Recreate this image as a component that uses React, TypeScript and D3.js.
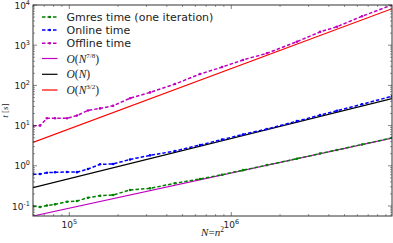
import React from 'react';
import * as d3 from 'd3';

// problem size N = n^2
const sizes = [59700, 66000, 72700, 81600, 96800, 111600, 130400, 154800, 186300, 237100, 315000, 449000, 640700, 876800, 1180000, 1660000, 2540000, 3530000, 4490000, 6410000, 9820000];

// timings in seconds
const gmresTime = [0.100, 0.0944, 0.103, 0.110, 0.128, 0.133, 0.161, 0.180, 0.188, 0.250, 0.275, 0.367, 0.470, 0.60, 0.78, 1.04, 1.50, 2.02, 2.48, 3.40, 4.95];
const onlineTime = [0.615, 0.625, 0.673, 0.689, 0.701, 0.695, 0.832, 1.09, 1.11, 1.44, 1.82, 2.33, 3.29, 4.49, 6.03, 8.22, 12.9, 18.2, 23.4, 33.9, 53.7];
const offlineTime = [9.95, 10.0, 15.2, 15.2, 15.2, 17.8, 23.8, 26.8, 31.0, 48.0, 67.0, 108, 192, 285, 429, 630, 1222, 2140, 2885, 5250, 10000];

// reference slopes O(N^p) = c * N^p
const refExponents = [7 / 8, 1, 3 / 2];
const refCoeffs = [Math.pow(10, -5.428), Math.pow(10, -5.321), Math.pow(10, -6.58)];

const xTickExps = [5, 6];
const yTickExps = [-1, 0, 1, 2, 3, 4];

const width = 393;
const height = 243;
const plot = { left: 33, right: 392, top: 5, bottom: 216 };

const tickFont = '"DejaVu Sans", sans-serif';
const mathFont = '"Liberation Serif", "DejaVu Serif", serif';

const Pow10: React.FC<{ x: number; y: number; exp: number; anchor: string }> = ({ x, y, exp, anchor }) => (
    <text x={x} y={y} textAnchor={anchor} fontFamily={tickFont} fontSize={9} fill="#222">
        10<tspan dy={-4} fontSize={6.5}>{exp}</tspan>
    </text>
);

export default function App() {
    const xScale = d3.scaleLog().domain([5.97e4, 9.82e6]).range([plot.left, plot.right]);
    const yScale = d3.scaleLog().domain([0.0564, 1e4]).range([plot.bottom, plot.top]);

    const pts = (vals: number[]) => sizes.map((n, i) => [n, vals[i]] as [number, number]);
    const line = d3.line<[number, number]>().x(d => xScale(d[0])).y(d => yScale(d[1]));

    const series = [
        { label: 'Gmres time (one iteration)', color: '#008000', vals: gmresTime },
        { label: 'Online time', color: '#0000ff', vals: onlineTime },
        { label: 'Offline time', color: '#bf00bf', vals: offlineTime },
    ];
    const refs = [
        { num: '7/8', color: '#bf00bf' },
        { num: '', color: '#000000' },
        { num: '3/2', color: '#ff0000' },
    ];

    const [x0, x1] = xScale.domain();
    const refLines = refExponents.map((p, i) => {
        const c = refCoeffs[i];
        return [[x0, c * Math.pow(x0, p)], [x1, c * Math.pow(x1, p)]] as [number, number][];
    });

    // minor ticks
    const xMinor: number[] = [];
    for (let e = 4; e <= 6; e++) for (let m = 2; m <= 9; m++) {
        const v = m * Math.pow(10, e);
        if (v > x0 && v < x1) xMinor.push(v);
    }
    const yMinor: number[] = [];
    for (let e = -2; e <= 3; e++) for (let m = 2; m <= 9; m++) {
        const v = m * Math.pow(10, e);
        if (v > 0.0564 && v < 1e4) yMinor.push(v);
    }

    const axisColor = '#333';
    const legendRows = [17, 30, 43.3, 58.5, 74.3, 90];

    return (
        <div style={{ position: 'absolute', left: 0, top: 0 }}>
            <svg width={width} height={height} style={{ display: 'block', background: '#fff' }}>
                <defs>
                    <clipPath id="plotClip">
                        <rect x={plot.left} y={plot.top} width={plot.right - plot.left} height={plot.bottom - plot.top} />
                    </clipPath>
                </defs>

                <g clipPath="url(#plotClip)">
                    {refLines.map((d, i) => (
                        <path key={'r' + i} d={line(d) || ''} fill="none" stroke={refs[i].color} strokeWidth={1.2} />
                    ))}
                    {series.map(s => (
                        <g key={s.label}>
                            <path d={line(pts(s.vals)) || ''} fill="none" stroke={s.color} strokeWidth={1.5} strokeDasharray="3.5,2" />
                            {pts(s.vals).map((d, i) => (
                                <circle key={i} cx={xScale(d[0])} cy={yScale(d[1])} r={1.3} fill={s.color} />
                            ))}
                        </g>
                    ))}
                </g>

                {/* ticks, all pointing inwards on four sides */}
                {xTickExps.map(e => {
                    const x = xScale(Math.pow(10, e));
                    return (
                        <g key={'xt' + e}>
                            <line x1={x} x2={x} y1={plot.bottom} y2={plot.bottom - 4} stroke={axisColor} strokeWidth={0.6} />
                            <line x1={x} x2={x} y1={plot.top} y2={plot.top + 4} stroke={axisColor} strokeWidth={0.6} />
                            <Pow10 x={x} y={plot.bottom + 12} exp={e} anchor="middle" />
                        </g>
                    );
                })}
                {xMinor.map(v => {
                    const x = xScale(v);
                    return (
                        <g key={'xm' + v}>
                            <line x1={x} x2={x} y1={plot.bottom} y2={plot.bottom - 2} stroke={axisColor} strokeWidth={0.5} />
                            <line x1={x} x2={x} y1={plot.top} y2={plot.top + 2} stroke={axisColor} strokeWidth={0.5} />
                        </g>
                    );
                })}
                {yTickExps.map(e => {
                    const y = yScale(Math.pow(10, e));
                    return (
                        <g key={'yt' + e}>
                            <line x1={plot.left} x2={plot.left + 4} y1={y} y2={y} stroke={axisColor} strokeWidth={0.6} />
                            <line x1={plot.right} x2={plot.right - 4} y1={y} y2={y} stroke={axisColor} strokeWidth={0.6} />
                            <Pow10 x={plot.left - 3} y={y + 3.5} exp={e} anchor="end" />
                        </g>
                    );
                })}
                {yMinor.map(v => {
                    const y = yScale(v);
                    return (
                        <g key={'ym' + v}>
                            <line x1={plot.left} x2={plot.left + 2} y1={y} y2={y} stroke={axisColor} strokeWidth={0.5} />
                            <line x1={plot.right} x2={plot.right - 2} y1={y} y2={y} stroke={axisColor} strokeWidth={0.5} />
                        </g>
                    );
                })}

                <rect x={plot.left} y={plot.top} width={plot.right - plot.left} height={plot.bottom - plot.top}
                    fill="none" stroke={axisColor} strokeWidth={1} />

                {/* axis labels */}
                <text x={(plot.left + plot.right) / 2} y={236} textAnchor="middle" fontFamily={mathFont} fontSize={11} fill="#222">
                    <tspan fontStyle="italic">N</tspan>=<tspan fontStyle="italic">n</tspan><tspan dy={-4.5} fontSize={7.5}>2</tspan>
                </text>
                <text transform={`translate(8,${(plot.top + plot.bottom) / 2}) rotate(-90)`} textAnchor="middle"
                    fontFamily={mathFont} fontSize={9} fill="#222">
                    <tspan fontStyle="italic">t</tspan> [<tspan fontStyle="italic">s</tspan>]
                </text>

                {/* legend */}
                {series.map((s, i) => (
                    <g key={'lg' + i}>
                        <line x1={42} x2={57.5} y1={legendRows[i]} y2={legendRows[i]} stroke={s.color} strokeWidth={1.5} strokeDasharray="3.5,2" />
                        <circle cx={49.7} cy={legendRows[i]} r={1.3} fill={s.color} />
                        <text x={66.5} y={legendRows[i] + 4} fontFamily={tickFont} fontSize={11} fill="#222">{s.label}</text>
                    </g>
                ))}
                {refs.map((r, i) => (
                    <g key={'lr' + i}>
                        <line x1={42} x2={57.5} y1={legendRows[i + 3]} y2={legendRows[i + 3]} stroke={r.color} strokeWidth={1.2} />
                        <text x={66.5} y={legendRows[i + 3] + 4} fontFamily={mathFont} fontSize={11.5} fill="#222">
                            <tspan fontStyle="italic">O</tspan>(<tspan fontStyle="italic">N</tspan>
                            {r.num && <tspan dy={-5} fontSize={7}>{r.num}</tspan>}
                            {r.num ? <tspan dy={5}>)</tspan> : ')'}
                        </text>
                    </g>
                ))}
            </svg>
        </div>
    );
}
